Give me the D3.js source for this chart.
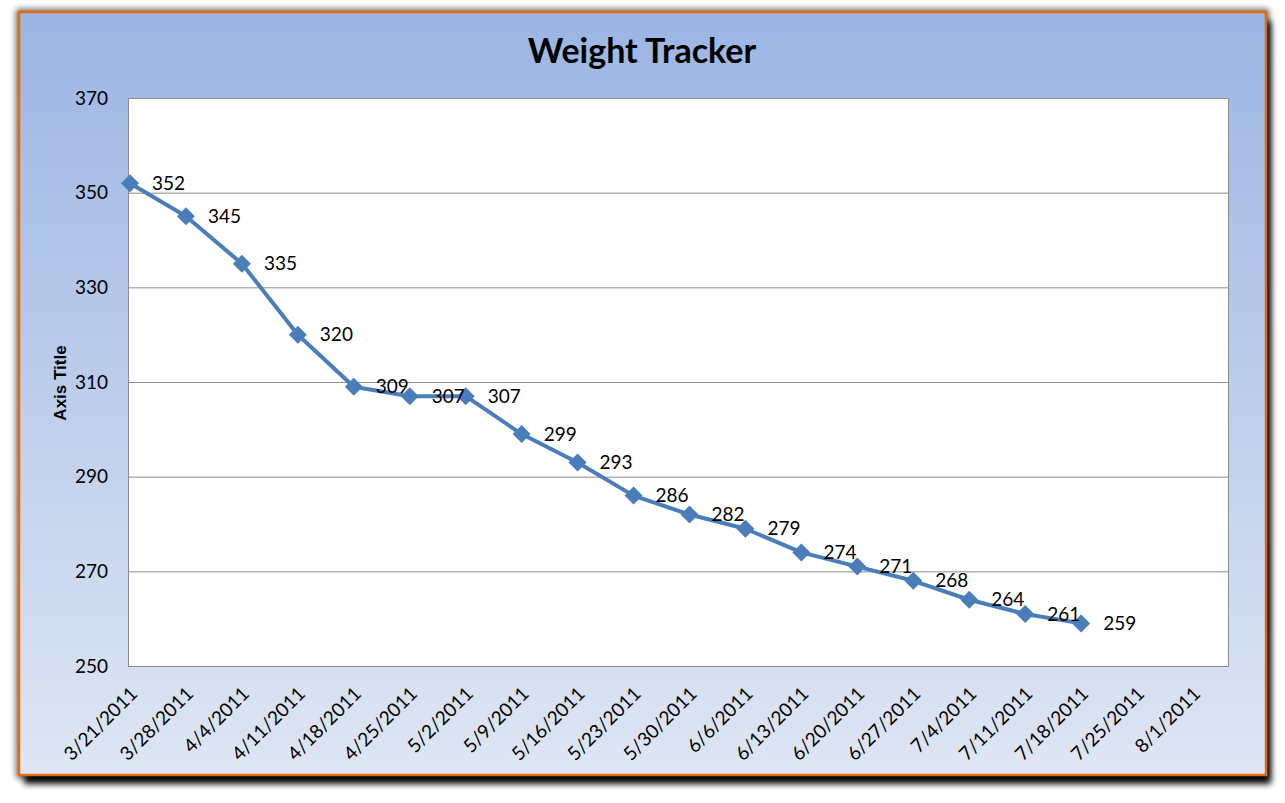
<!DOCTYPE html>
<html>
<head>
<meta charset="utf-8">
<script src="https://cdn.jsdelivr.net/npm/d3@7"></script>
<style>
  html, body { margin: 0; padding: 0; background: #fff; }
  svg { display: block; }
</style>
</head>
<body>
<div id="chart"></div>
<script>
// Weight Tracker - weekly weigh-ins
const weighDates = ['3/21/2011', '3/28/2011', '4/4/2011', '4/11/2011', '4/18/2011', '4/25/2011',
  '5/2/2011', '5/9/2011', '5/16/2011', '5/23/2011', '5/30/2011', '6/6/2011', '6/13/2011',
  '6/20/2011', '6/27/2011', '7/4/2011', '7/11/2011', '7/18/2011'];
const weights = [352, 345, 335, 320, 309, 307, 307, 299, 293, 286, 282, 279, 274, 271, 268, 264, 261, 259];
const xTickLabels = ['3/21/2011', '3/28/2011', '4/4/2011', '4/11/2011', '4/18/2011', '4/25/2011',
  '5/2/2011', '5/9/2011', '5/16/2011', '5/23/2011', '5/30/2011', '6/6/2011', '6/13/2011',
  '6/20/2011', '6/27/2011', '7/4/2011', '7/11/2011', '7/18/2011', '7/25/2011', '8/1/2011'];
const yTicks = [250, 270, 290, 310, 330, 350, 370];

const W = 1285, H = 803;
const parse = d3.timeParse('%m/%d/%Y');
const data = weighDates.map((d, i) => ({ date: parse(d), value: weights[i] }));

const box = { x: 19, y: 12, w: 1247, h: 763 };
const plot = { left: 128, right: 1229, top: 98, bottom: 666 };

const svg = d3.select('#chart').append('svg').attr('width', W).attr('height', H);
const defs = svg.append('defs');

const grad = defs.append('linearGradient').attr('id', 'bg').attr('x1', 0).attr('y1', 0).attr('x2', 0).attr('y2', 1);
grad.append('stop').attr('offset', '0%').attr('stop-color', '#9bb5e3');
grad.append('stop').attr('offset', '100%').attr('stop-color', '#dfe6f4');

const shadow = defs.append('filter').attr('id', 'shadow').attr('x', '-5%').attr('y', '-5%').attr('width', '110%').attr('height', '115%');
shadow.append('feGaussianBlur').attr('in', 'SourceAlpha').attr('stdDeviation', 3);

// drop shadow + soft glow
svg.append('rect')
  .attr('x', box.x - 3).attr('y', box.y - 3).attr('width', box.w + 6).attr('height', box.h + 6)
  .attr('fill', '#a9c3ec').attr('opacity', 0.6).attr('filter', 'url(#shadow)');
svg.append('rect')
  .attr('x', box.x + 5).attr('y', box.y + 9).attr('width', box.w).attr('height', box.h)
  .attr('fill', '#13294d').attr('opacity', 0.95).attr('filter', 'url(#shadow)');

svg.append('rect')
  .attr('x', box.x).attr('y', box.y).attr('width', box.w).attr('height', box.h)
  .attr('fill', 'url(#bg)').attr('stroke', '#e36c0a').attr('stroke-width', 2.5);

const x = d3.scaleTime()
  .domain([new Date(2011, 2, 20, 18), new Date(2011, 7, 5, 12)])
  .range([plot.left, plot.right]);
const y = d3.scaleLinear().domain([250, 370]).range([plot.bottom, plot.top]);

svg.append('rect')
  .attr('x', plot.left).attr('y', plot.top)
  .attr('width', plot.right - plot.left).attr('height', plot.bottom - plot.top)
  .attr('fill', '#fff');

// gridlines
svg.append('g')
  .selectAll('line').data(yTicks).join('line')
  .attr('x1', plot.left).attr('x2', plot.right)
  .attr('y1', d => y(d) + 0.5).attr('y2', d => y(d) + 0.5)
  .attr('stroke', '#8c8c8c').attr('stroke-width', 1);

svg.append('line')
  .attr('x1', plot.left + 0.5).attr('x2', plot.left + 0.5)
  .attr('y1', plot.top).attr('y2', plot.bottom)
  .attr('stroke', '#8c8c8c');
svg.append('line')
  .attr('x1', plot.right - 0.5).attr('x2', plot.right - 0.5)
  .attr('y1', plot.top).attr('y2', plot.bottom)
  .attr('stroke', '#8c8c8c');

const font = 'Lato, "Open Sans", sans-serif';

// y axis labels
const yAxis = d3.axisLeft(y).tickValues(yTicks).tickSize(0).tickPadding(20);
const yg = svg.append('g').attr('transform', `translate(${plot.left},0)`).call(yAxis);
yg.select('.domain').remove();
yg.selectAll('text').attr('font-family', font).attr('font-size', 19).attr('fill', '#000');

// x axis labels
const xAxis = d3.axisBottom(x)
  .tickValues(xTickLabels.map(parse))
  .tickFormat(d => d3.timeFormat('%-m/%-d/%Y')(d))
  .tickSize(0);
const xg = svg.append('g').attr('transform', `translate(0,${plot.bottom})`).call(xAxis);
xg.select('.domain').remove();
xg.selectAll('text')
  .attr('font-family', font).attr('font-size', 19).attr('fill', '#000')
  .attr('text-anchor', 'end')
  .attr('y', 0).attr('dy', 0)
  .attr('transform', 'translate(8,29) rotate(-45)');

// axis title
svg.append('text')
  .attr('transform', 'translate(66,383) rotate(-90)')
  .attr('text-anchor', 'middle')
  .attr('font-family', '"Liberation Sans", Arial, sans-serif')
  .attr('font-weight', 'bold').attr('font-size', 17)
  .text('Axis Title');

// chart title
svg.append('text')
  .attr('x', 642).attr('y', 63)
  .attr('text-anchor', 'middle')
  .attr('font-family', font).attr('font-weight', 'bold').attr('font-size', 34)
  .text('Weight Tracker');

// series
const line = d3.line().x(d => x(d.date)).y(d => y(d.value));
svg.append('path').datum(data)
  .attr('d', line)
  .attr('fill', 'none').attr('stroke', '#4a7ebb').attr('stroke-width', 4)
  .attr('stroke-linejoin', 'round');

const diamond = 'M0,-9L9,0L0,9L-9,0Z';
svg.append('g').selectAll('path').data(data).join('path')
  .attr('d', diamond)
  .attr('transform', d => `translate(${x(d.date)},${y(d.value)})`)
  .attr('fill', '#4a7ebb');

svg.append('g').selectAll('text').data(data).join('text')
  .attr('x', d => x(d.date) + 22).attr('y', d => y(d.value))
  .attr('dy', '0.35em')
  .attr('font-family', font).attr('font-size', 19).attr('fill', '#000')
  .text(d => d.value);
</script>
</body>
</html>
